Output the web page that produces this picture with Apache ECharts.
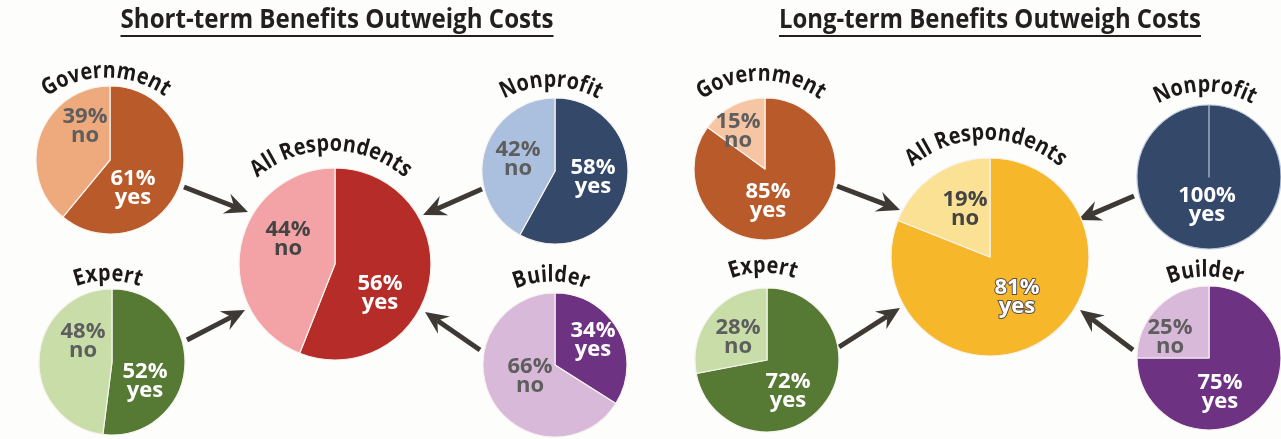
<!DOCTYPE html>
<html>
<head>
<meta charset="utf-8">
<title>Benefits outweigh costs</title>
<script src="https://cdn.jsdelivr.net/npm/echarts@6/dist/echarts.min.js"></script>
<style>
  html, body { margin: 0; padding: 0; background: #fdfdfb; }
  #chart { width: 1281px; height: 439px; }
</style>
</head>
<body>
<div id="chart"></div>
<script>
const groups = ['Government', 'Expert', 'All Respondents', 'Nonprofit', 'Builder'];
const answers = ['yes', 'no'];
const shortYes = [61, 52, 56, 58, 34];
const shortNo = [39, 48, 44, 42, 66];
const longYes = [85, 72, 81, 100, 75];
const longNo = [15, 28, 19, 0, 25];
const panelTitles = ['Short-term Benefits Outweigh Costs', 'Long-term Benefits Outweigh Costs'];

// colours per group
const shortYesColors = ['#b95a2b', '#567a34', '#b52c29', '#34486a', '#6d3281'];
const shortNoColors = ['#eeaa7c', '#c9dda9', '#f3a3a5', '#aac0de', '#d9b9d9'];
const longYesColors = ['#b95a2b', '#567a34', '#f6b72a', '#34486a', '#6d3281'];
const longNoColors = ['#f6c5a3', '#c9dda9', '#fae194', '#b9c5d8', '#d9b9d9'];
const noText = ['#5e5e5e', '#5e5e5e', '#444444', '#5e5e5e', '#5e5e5e'];
const arrowColor = '#3e3935';
const FONT = '"Open Sans", "Noto Sans", sans-serif';

// layout: pie centre / radius, label offsets, gap of curved name, arrows
const panels = [
  {
    yes: shortYes, no: shortNo, yesColors: shortYesColors, noColors: shortNoColors,
    titleX: 337, titleW: 433,
    pies: [
      { c: [110, 160], r: 74, yesOff: [23, 28], noOff: [-25, -34], gap: 7, arc: 100 },
      { c: [112, 362], r: 73, yesOff: [33, 19], noOff: [-29, -21], gap: 7, arc: 90 },
      { c: [335, 264], r: 96, yesOff: [45, 29], noOff: [-47, -25], gap: 16, arc: 112 },
      { c: [555, 171], r: 73, yesOff: [38, 6], noOff: [-37, -12], gap: 10, arc: 95 },
      { c: [555, 365], r: 72, yesOff: [38, -25], noOff: [-25, 11], gap: 10, arc: 90 }
    ],
    arrows: [
      [[184, 187], [248, 212]],
      [[187, 340], [245, 310]],
      [[482, 189], [423, 215]],
      [[480, 350], [425, 312]]
    ]
  },
  {
    yes: longYes, no: longNo, yesColors: longYesColors, noColors: longNoColors,
    titleX: 990, titleW: 422,
    pies: [
      { c: [765, 169], r: 71, yesOff: [3, 32], noOff: [-27, -38], gap: 16, arc: 100 },
      { c: [767, 360], r: 72, yesOff: [21, 31], noOff: [-29, -23], gap: 14, arc: 90 },
      { c: [990, 257], r: 99, yesOff: [27, 40], noOff: [-25, -48], gap: 17, arc: 112 },
      { c: [1209, 177], r: 72, yesOff: [-2, 28], noOff: [0, 0], gap: 12, arc: 95 },
      { c: [1209, 358], r: 72, yesOff: [11, 34], noOff: [-39, -21], gap: 8, arc: 90 }
    ],
    arrows: [
      [[837, 186], [900, 210]],
      [[839, 347], [900, 308]],
      [[1134, 196], [1078, 220]],
      [[1133, 350], [1080, 310]]
    ]
  }
];

const measureCtx = document.createElement('canvas').getContext('2d');

// one text element per character along an arc above the pie
function arcText(str, cx, baseY, R, font, sx) {
  measureCtx.font = font;
  const chars = [...str];
  const widths = chars.map(ch => measureCtx.measureText(ch).width * sx);
  const total = widths.reduce((a, b) => a + b, 0);
  const oy = baseY + R;
  const rr = R + 8;
  let s = -total / 2;
  return chars.map((ch, i) => {
    const th = (s + widths[i] / 2) / R;
    s += widths[i];
    return {
      type: 'text', silent: true,
      x: cx + rr * Math.sin(th), y: oy - rr * Math.cos(th), rotation: -th, scaleX: sx,
      style: { text: ch, font: font, fill: '#1c1819', align: 'center', verticalAlign: 'middle' }
    };
  });
}

function arrow(a, b) {
  const dx = b[0] - a[0], dy = b[1] - a[1], len = Math.hypot(dx, dy);
  const ux = dx / len, uy = dy / len, px = -uy, py = ux;
  const head = 23, half = 10.5, notch = 15;
  return [
    { type: 'line', silent: true,
      shape: { x1: a[0], y1: a[1], x2: b[0] - ux * notch, y2: b[1] - uy * notch },
      style: { stroke: arrowColor, lineWidth: 5 } },
    { type: 'polygon', silent: true,
      shape: { points: [
        [b[0], b[1]],
        [b[0] - ux * head + px * half, b[1] - uy * head + py * half],
        [b[0] - ux * notch, b[1] - uy * notch],
        [b[0] - ux * head - px * half, b[1] - uy * head - py * half]
      ] },
      style: { fill: arrowColor } }
  ];
}

const series = [];
const graphics = [];

panels.forEach((p, pi) => {
  // panel heading, underlined
  const tFont = 'bold 26px ' + FONT;
  measureCtx.font = tFont;
  const tw = measureCtx.measureText(panelTitles[pi]).width;
  graphics.push({
    type: 'text', silent: true, x: p.titleX, y: 21, scaleX: p.titleW / tw,
    style: { text: panelTitles[pi], font: tFont, fill: '#231f20', align: 'center', verticalAlign: 'middle' }
  });
  graphics.push({
    type: 'line', silent: true,
    shape: { x1: p.titleX - p.titleW / 2, y1: 36, x2: p.titleX + p.titleW / 2, y2: 36 },
    style: { stroke: '#231f20', lineWidth: 2 }
  });

  p.pies.forEach((pie, gi) => {
    const yesVal = p.yes[gi], noVal = p.no[gi];
    series.push({
      type: 'pie',
      silent: true,
      center: pie.c,
      radius: pie.r,
      startAngle: 90,
      clockwise: true,
      itemStyle: {
        borderColor: noVal === 0 ? '#b9c5d8' : '#f6f3ef',
        borderWidth: 1.2
      },
      label: {
        show: true,
        position: 'inside',
        formatter: '{c}%\n{b}',
        fontFamily: FONT,
        fontWeight: 'bold',
        fontSize: 22,
        lineHeight: 19,
        align: 'center'
      },
      labelLine: { show: false },
      labelLayout: function (params) {
        const off = params.dataIndex === 0 ? pie.yesOff : pie.noOff;
        return { x: pie.c[0] + off[0], y: pie.c[1] + off[1], align: 'center', verticalAlign: 'middle' };
      },
      data: [
        {
          name: answers[0], value: yesVal,
          itemStyle: { color: p.yesColors[gi] },
          label: pi === 1 && gi === 2
            ? { color: '#ffffff', textBorderColor: '#5a5048', textBorderWidth: 2 }
            : { color: '#ffffff' }
        },
        {
          name: answers[1], value: noVal,
          itemStyle: { color: p.noColors[gi] },
          label: { show: noVal > 0, color: noText[gi] }
        }
      ]
    });

    // curved group name
    graphics.push(...arcText(groups[gi], pie.c[0] - 4, pie.c[1] - pie.r - pie.gap, pie.arc, 'bold 23px ' + FONT, 0.86));
  });

  p.arrows.forEach(ar => graphics.push(...arrow(ar[0], ar[1])));
});

const chart = echarts.init(document.getElementById('chart'));
chart.setOption({
  backgroundColor: '#fdfdfb',
  animation: false,
  series: series,
  graphic: { elements: graphics }
});
</script>
</body>
</html>
